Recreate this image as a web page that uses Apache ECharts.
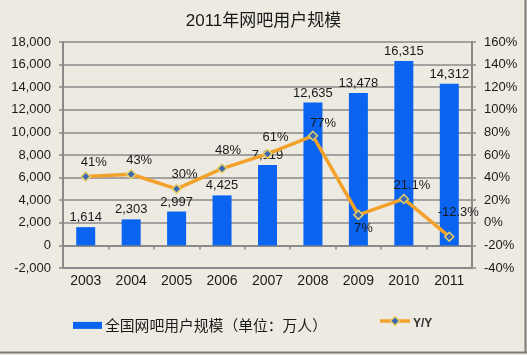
<!DOCTYPE html>
<html>
<head>
<meta charset="utf-8">
<script src="https://cdn.jsdelivr.net/npm/echarts@6/dist/echarts.min.js"></script>
<style>
html,body{margin:0;padding:0;background:#EDEAE1;}
#chart{width:527px;height:355px;}
</style>
</head>
<body>
<div id="chart"></div>
<script>
// ---- data ----
var titleText = '2011年网吧用户规模';
var categories = ['2003','2004','2005','2006','2007','2008','2009','2010','2011'];
var barName = '全国网吧用户规模（单位：万人）';
var barValues = [1614, 2303, 2997, 4425, 7119, 12635, 13478, 16315, 14312];
var lineName = 'Y/Y';
var lineValues = [41, 43, 30, 48, 61, 77, 7, 21.1, -12.3];
var leftTicks = {min: -2000, max: 18000, interval: 2000};
var rightTicks = {min: -40, max: 160, interval: 20};

// ---- label layout (positions only) ----
var lineLabelLayout = [
  {pos:'top', off:[8,0]},
  {pos:'top', off:[8,0]},
  {pos:'top', off:[8,-1]},
  {pos:'top', off:[6,-4]},
  {pos:'top', off:[8,-3]},
  {pos:'top', off:[10,1]},
  {pos:'bottom', off:[5,0]},
  {pos:'top', off:[8,0]},
  {pos:'top', off:[9,-11]}
];

function fmtThousands(v){
  var s = Math.abs(v).toString().replace(/\B(?=(\d{3})+(?!\d))/g, ',');
  return (v < 0 ? '-' : '') + s;
}

var txt = '#1a1a1a';
var gridCol = '#8a8a8a';
var font = 'Liberation Sans, Arial, sans-serif';
var lineCol = '#F2A12A';
var markFill = '#3C68B0';
var markBorder = '#E6CE6A';

var lineData = lineValues.map(function(v,i){
  var L = lineLabelLayout[i];
  return {value: v, label: {position: L.pos, offset: L.off}};
});

var chart = echarts.init(document.getElementById('chart'), null, {renderer:'canvas'});
chart.setOption({
  backgroundColor: '#EDEAE1',
  animation: false,
  textStyle: {fontFamily: font},
  title: {
    text: titleText, left: 'center', top: 8,
    textStyle: {fontSize: 17, fontWeight: 'normal', color: txt, fontFamily: 'Liberation Sans, Noto Sans CJK SC, sans-serif'}
  },
  grid: {left: 63, right: 55, top: 42, bottom: 87, containLabel: false},
  legend: [
    {data: [{name: barName, icon: 'rect'}], left: 68, top: 313, itemWidth: 29, itemHeight: 7, itemGap: 0,
     textStyle: {fontSize: 14.8, color: txt, fontFamily: 'Noto Sans CJK SC, sans-serif', padding:[0,0,0,-2]}},
    {data: [{name: lineName, icon: 'none'}], left: 375, top: 313, itemWidth: 30, itemHeight: 8,
     textStyle: {fontSize: 12, fontWeight: 'bold', color: '#333', fontFamily: font, padding:[0,0,0,-2]}}
  ],
  graphic: [
    {type:'line', shape:{x1:525.5,y1:0,x2:525.5,y2:353}, style:{stroke:'#7a7a7a', lineWidth:2}, silent:true},
    {type:'line', shape:{x1:0,y1:352.5,x2:527,y2:352.5}, style:{stroke:'#7a7a7a', lineWidth:2}, silent:true},
    {type:'line', shape:{x1:380,y1:321,x2:410,y2:321}, style:{stroke:lineCol, lineWidth:3.5}, silent:true, z:100},
    {type:'polygon', shape:{points:[[395,316.5],[399.5,321],[395,325.5],[390.5,321]]},
     style:{fill:markFill, stroke:markBorder, lineWidth:1.5}, silent:true, z:101}
  ],
  xAxis: [
    {type:'category', data: categories, position:'bottom', boundaryGap:true,
     axisLine:{show:true, onZero:false, lineStyle:{color:gridCol, width:2}},
     axisTick:{show:false},
     axisLabel:{fontSize:14, color:txt, margin:6, fontFamily:font}},
    {type:'category', data: categories, position:'bottom', boundaryGap:true,
     axisLine:{show:true, onZero:true, onZeroAxisIndex:0, lineStyle:{color:gridCol, width:2}},
     axisTick:{show:true, inside:false, length:4, lineStyle:{color:gridCol, width:1.5}},
     axisLabel:{show:false}}
  ],
  yAxis: [
    {type:'value', min:leftTicks.min, max:leftTicks.max, interval:leftTicks.interval, position:'left',
     axisLine:{show:true, lineStyle:{color:gridCol, width:2}},
     axisTick:{show:true, length:4, lineStyle:{color:gridCol, width:1.5}},
     splitLine:{show:true, lineStyle:{color:gridCol, width:1.5}},
     axisLabel:{fontSize:13, color:txt, margin:12, fontFamily:font, formatter: fmtThousands}},
    {type:'value', min:rightTicks.min, max:rightTicks.max, interval:rightTicks.interval, position:'right',
     axisLine:{show:true, lineStyle:{color:gridCol, width:2}},
     axisTick:{show:true, length:4, lineStyle:{color:gridCol, width:1.5}},
     splitLine:{show:false},
     axisLabel:{fontSize:13, color:txt, margin:12, fontFamily:font, formatter: function(v){return v+'%';}}}
  ],
  series: [
    {name: barName, type:'bar', xAxisIndex:0, yAxisIndex:0, data: barValues, barWidth:19,
     itemStyle:{color:'#0B64F0'},
     label:{show:true, position:'top', distance:3, fontSize:13, color:txt, fontFamily:font,
            formatter:function(p){return fmtThousands(p.value);}}},
    {name: lineName, type:'line', xAxisIndex:0, yAxisIndex:1, data: lineData,
     symbol:'diamond', symbolSize:9, showAllSymbol:true,
     lineStyle:{color:lineCol, width:3.5},
     itemStyle:{color:markFill, borderColor:markBorder, borderWidth:1.5},
     label:{show:true, distance:2, fontSize:13, color:txt, fontFamily:font,
            formatter:function(p){return p.value+'%';}}}
  ]
});
</script>
</body>
</html>
